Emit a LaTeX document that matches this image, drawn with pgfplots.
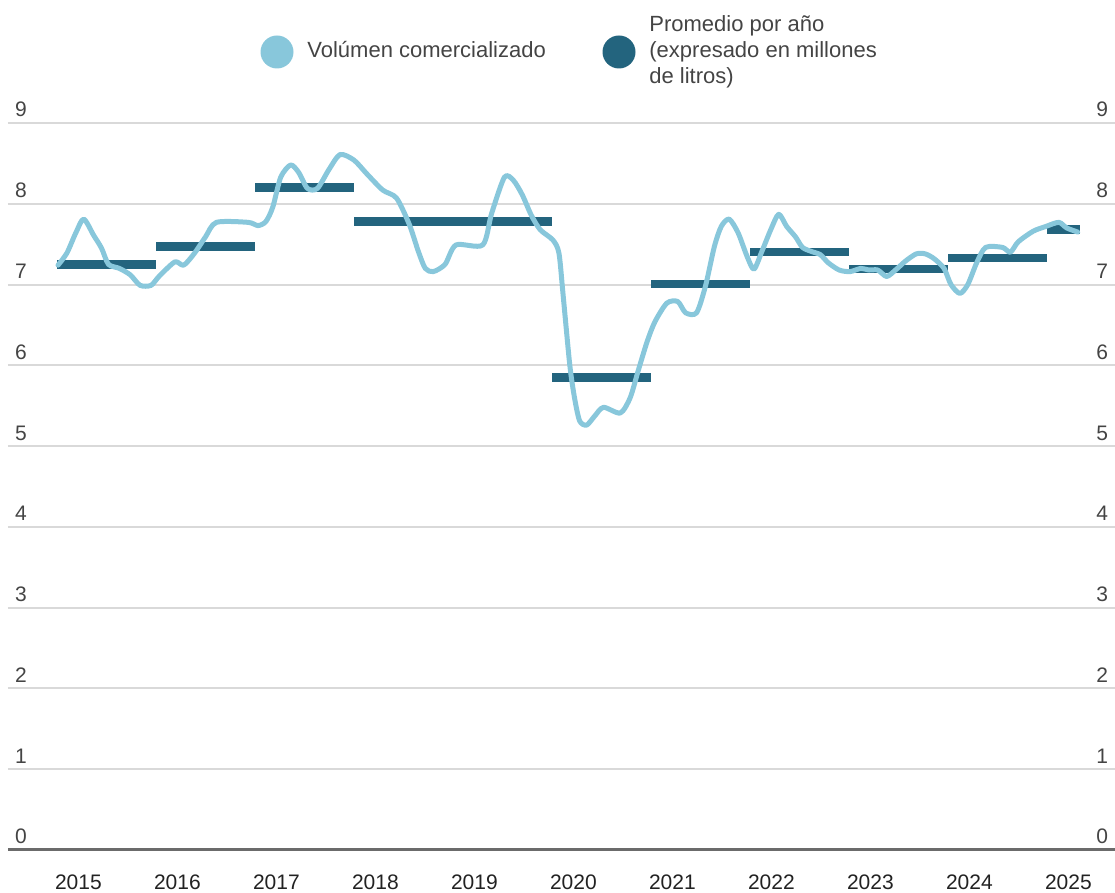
\documentclass[border=0pt]{standalone}
\usepackage{fontspec}
\setmainfont{Liberation Sans}
\usepackage{pgfplots}
\usepackage{pgfplotstable}
\pgfplotsset{compat=1.18}
\definecolor{lightline}{HTML}{88C7DB}
\definecolor{darkbar}{HTML}{23647E}
\definecolor{gridc}{HTML}{D9D9D9}
\definecolor{axisc}{HTML}{6B6B6B}
\definecolor{txt}{HTML}{444444}
\definecolor{txtx}{HTML}{222222}

\pgfplotstableread{
x y
2015.01 7.24
2015.10 7.39
2015.19 7.64
2015.27 7.81
2015.37 7.61
2015.45 7.45
2015.52 7.25
2015.63 7.20
2015.74 7.12
2015.84 6.99
2015.95 6.99
2016.03 7.10
2016.19 7.28
2016.28 7.24
2016.39 7.39
2016.50 7.59
2016.61 7.77
2016.93 7.77
2017.03 7.73
2017.11 7.78
2017.18 7.96
2017.26 8.33
2017.36 8.48
2017.44 8.39
2017.53 8.19
2017.63 8.19
2017.75 8.43
2017.86 8.61
2018.00 8.54
2018.13 8.37
2018.29 8.17
2018.43 8.07
2018.56 7.74
2018.65 7.41
2018.72 7.20
2018.80 7.16
2018.92 7.25
2019.03 7.49
2019.30 7.49
2019.39 7.88
2019.52 8.33
2019.61 8.29
2019.70 8.11
2019.79 7.86
2019.88 7.68
2020.01 7.55
2020.07 7.39
2020.11 6.90
2020.18 6.00
2020.23 5.58
2020.28 5.31
2020.35 5.26
2020.43 5.37
2020.52 5.48
2020.69 5.41
2020.79 5.60
2020.87 5.93
2020.96 6.29
2021.04 6.54
2021.16 6.77
2021.27 6.79
2021.35 6.65
2021.46 6.65
2021.55 6.98
2021.64 7.47
2021.71 7.72
2021.79 7.81
2021.88 7.64
2021.97 7.35
2022.04 7.19
2022.12 7.41
2022.21 7.68
2022.29 7.87
2022.37 7.72
2022.46 7.59
2022.53 7.46
2022.62 7.41
2022.71 7.37
2022.79 7.27
2022.90 7.18
2023.01 7.16
2023.12 7.20
2023.20 7.18
2023.29 7.18
2023.38 7.10
2023.47 7.18
2023.57 7.29
2023.68 7.38
2023.77 7.38
2023.86 7.32
2023.96 7.20
2024.03 7.00
2024.12 6.89
2024.20 7.00
2024.29 7.27
2024.38 7.46
2024.55 7.46
2024.63 7.40
2024.71 7.53
2024.86 7.66
2024.99 7.72
2025.12 7.77
2025.20 7.70
2025.31 7.65
}\volumen

\begin{document}
\begin{tikzpicture}[x=1pt,y=1pt]
\useasboundingbox (0,0) rectangle (557.5,446.5);
\begin{axis}[
  at={(4pt,21.5pt)}, anchor=south west,
  scale only axis, width=553.5pt, height=363.5pt,
  xmin=2014.505, xmax=2025.687, ymin=0, ymax=9,
  clip=false,
  axis line style={draw=none},
  major tick length=0pt,
  tick style={draw=none},
  ytick={0,1,2,3,4,5,6,7,8,9},
  yticklabels={0,1,2,3,4,5,6,7,8,9},
  yticklabel style={anchor=base west, yshift=3pt, text=txt, font=\fontsize{10.5}{12}\selectfont},
  xtick={2015,2016,2017,2018,2019,2020,2021,2022,2023,2024,2025},
  xticklabels={2015,2016,2017,2018,2019,2020,2021,2022,2023,2024,2025},
  xticklabel style={anchor=base west, yshift=-20pt, xshift=-4.5pt, text=txtx, font=\fontsize{10.5}{12}\selectfont},
  ymajorgrids, grid style={gridc, line width=1pt},
  extra y ticks={0}, extra y tick labels={},
  extra y tick style={grid style={axisc, line width=1.5pt}},
  unbounded coords=jump,
]
\addplot[darkbar, line width=4.2pt, line cap=butt] coordinates {
 (2015.0,7.25) (2016.0,7.25) (2016.0,nan)
 (2016.0,7.47) (2017.0,7.47) (2017.0,nan)
 (2017.0,8.20) (2018.0,8.20) (2018.0,nan)
 (2018.0,7.78) (2019.0,7.78) (2020.0,7.78) (2020.0,nan)
 (2020.0,5.85) (2021.0,5.85) (2021.0,nan)
 (2021.0,7.01) (2022.0,7.01) (2022.0,nan)
 (2022.0,7.40) (2023.0,7.40) (2023.0,nan)
 (2023.0,7.19) (2024.0,7.19) (2024.0,nan)
 (2024.0,7.33) (2025.0,7.33) (2025.0,nan)
 (2025.0,7.68) (2025.33,7.68)
};
\addplot[lightline, line width=2.5pt, smooth, tension=0.45, line cap=round, line join=round] table[x=x,y=y] {\volumen};
\end{axis}
\begin{axis}[
  at={(4pt,21.5pt)}, anchor=south west,
  scale only axis, width=553.5pt, height=363.5pt,
  xmin=2014.505, xmax=2025.687, ymin=0, ymax=9,
  axis line style={draw=none},
  major tick length=0pt,
  tick style={draw=none},
  xtick=\empty,
  yticklabel pos=right,
  ytick={0,1,2,3,4,5,6,7,8,9},
  yticklabels={0,1,2,3,4,5,6,7,8,9},
  yticklabel style={anchor=base east, yshift=3pt, text=txt, font=\fontsize{10.5}{12}\selectfont},
]
\end{axis}
% legend
\fill[lightline] (138.5,420.5) circle (8.25);
\node[anchor=mid west, inner sep=0, text=txt, font=\fontsize{11}{13}\selectfont] at (153.5,420.5) {Volúmen comercializado};
\fill[darkbar] (309.5,420.5) circle (8.25);
\node[anchor=base west, inner sep=0, text=txt, font=\fontsize{11}{13}\selectfont] at (324.5,430.5) {Promedio por año};
\node[anchor=base west, inner sep=0, text=txt, font=\fontsize{11}{13}\selectfont] at (324.5,417.5) {(expresado en millones};
\node[anchor=base west, inner sep=0, text=txt, font=\fontsize{11}{13}\selectfont] at (324.5,404.5) {de litros)};
\end{tikzpicture}
\end{document}
